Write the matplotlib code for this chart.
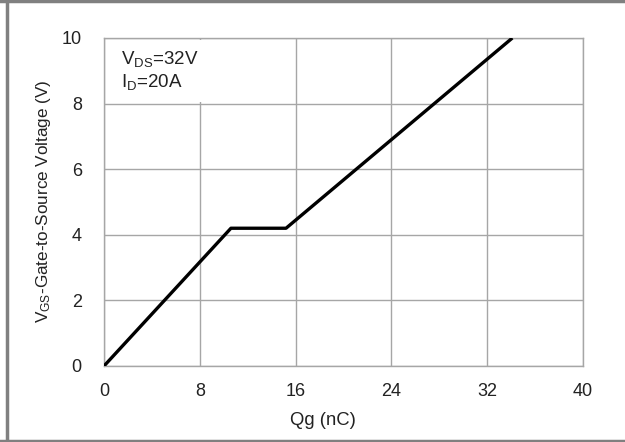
import matplotlib
matplotlib.use('Agg')
import matplotlib.pyplot as plt
from matplotlib.lines import Line2D

plt.rcParams['font.family'] = ['Liberation Sans', 'DejaVu Sans']
plt.rcParams['mathtext.fontset'] = 'custom'
plt.rcParams['mathtext.rm'] = 'Liberation Sans'
plt.rcParams['mathtext.it'] = 'Liberation Sans'

# gate charge curve (nC, V)
qg = [0, 10.6, 15.2, 34.1]
vgs = [0, 4.2, 4.2, 10]

x_ticks = [0, 8, 16, 24, 32, 40]
y_ticks = [0, 2, 4, 6, 8, 10]

fs = 13
tc = '#222222'

fig = plt.figure(figsize=(6.25, 4.42), dpi=100)
ax = fig.add_axes([104/625, 1-366/442, (583-104)/625, (366-38)/442])

ax.plot(qg, vgs, color='black', lw=2.4, solid_capstyle='butt', zorder=3)

ax.set_xlim(0, 40)
ax.set_ylim(0, 10)
ax.set_xticks(x_ticks)
ax.set_yticks(y_ticks)
ax.grid(True, color='#a6a6a6', lw=1)
ax.tick_params(length=0, labelsize=fs, colors=tc)
ax.tick_params(axis='x', pad=12)
ax.tick_params(axis='y', pad=16)
for s in ax.spines.values():
    s.set_color('#a6a6a6')
    s.set_linewidth(1)

ax.set_xlabel('Qg (nC)', fontsize=13.3, color=tc)
ax.set_ylabel(r'V$_{\rm GS}$-Gate-to-Source Voltage (V)', fontsize=12.3, color=tc)
ax.xaxis.set_label_coords(0.457, -0.14)
ax.yaxis.set_label_coords(-0.106, 0.503)

ax.text(0.035, 0.965, 'V$_{\\rm DS}$=32V\nI$_{\\rm D}$=20A', transform=ax.transAxes,
        va='top', ha='left', fontsize=13.5, color=tc, linespacing=1.2,
        bbox=dict(facecolor='white', edgecolor='none', pad=7), zorder=4)

# gray frame around the figure
fc = '#808080'
fig.add_artist(Line2D([0.011, 0.011], [0, 1], transform=fig.transFigure, color=fc, lw=2.5))
fig.add_artist(Line2D([0, 1], [0.997, 0.997], transform=fig.transFigure, color=fc, lw=2.5))
fig.add_artist(Line2D([0, 1], [0.003, 0.003], transform=fig.transFigure, color=fc, lw=2.5))

fig.savefig('out.png', dpi=100)
